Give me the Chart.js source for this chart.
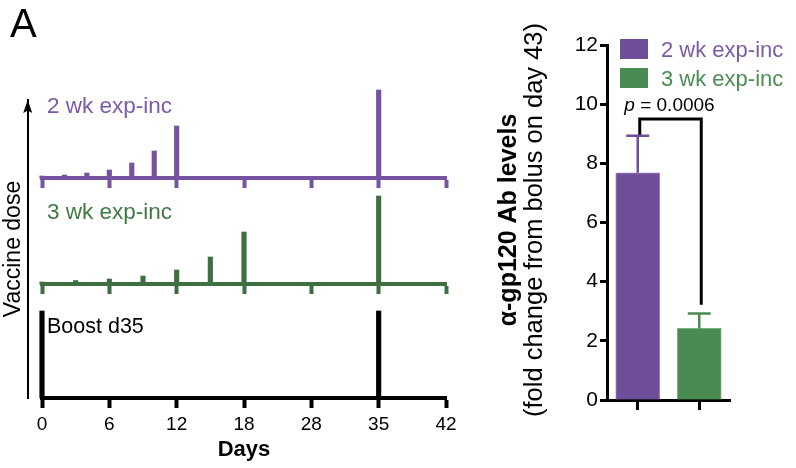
<!DOCTYPE html>
<html><head><meta charset="utf-8">
<script src="https://cdn.jsdelivr.net/npm/chart.js@4.4.1/dist/chart.umd.min.js"></script>
<style>
html,body{margin:0;padding:0;background:#fff;}
#wrap{position:relative;width:796px;height:468px;overflow:hidden;background:#fff;}
#cA{position:absolute;left:0;top:0;}
#cB{position:absolute;left:490px;top:0;}
</style></head><body>
<div id="wrap"><canvas id="cA" width="480" height="468"></canvas><canvas id="cB" width="306" height="468"></canvas></div>
<script>
// ---------- Panel A data (relative dose units) ----------
const DAY_TICKS = [0, 6, 12, 18, 28, 35, 42];
const DAY_TICK_LABELS = ['0', '6', '12', '18', '28', '35', '42'];
const TWO_WK_DAYS = [0, 2, 4, 6, 8, 10, 12, 35];
const TWO_WK_DOSE = [2, 3, 5, 8, 15, 27, 52, 88];
const THREE_WK_DAYS = [0, 3, 6, 9, 12, 15, 18, 35];
const THREE_WK_DOSE = [2, 3.5, 5, 8, 14, 27, 52, 88];
const BOLUS_DAYS = [0, 35];
const BOLUS_DOSE = [87, 87];
const ROW_LABELS = ['2 wk exp-inc', '3 wk exp-inc', 'Boost d35'];

// ---------- Panel B data ----------
const GROUPS = ['2 wk exp-inc', '3 wk exp-inc'];
const AB_MEAN = [7.68, 2.42];
const AB_SEM = [1.25, 0.5];
const P_VALUE = '0.0006';
const Y_TITLE_B = ['α-gp120 Ab levels', '(fold change from bolus on day 43)'];

// ---------- styles ----------
const FONT = '"Liberation Sans", Arial, Helvetica, sans-serif';
Chart.defaults.font.family = FONT;
const PURPLE_LINE = '#7653a1', GREEN_LINE = '#3e6f40';
const PURPLE_TEXT = '#7a5ba7', GREEN_TEXT = '#3f7a45';
const PURPLE_BAR = '#6f4e99', PURPLE_EDGE = '#9a83bd';
const GREEN_BAR = '#4a8b51', GREEN_EDGE = '#7db383';
const GREEN_LEG_TEXT = '#4a8c52';

// row baselines on the shared (hidden) dose axis
const BASE = { p: 220, g: 114, b: 0 };
const LABEL_RISE = 65.5;
const AXIS_ARROW_X = -0.212;

function dayToPos(d) {
  for (let i = 0; i < DAY_TICKS.length - 1; i++) {
    const a = DAY_TICKS[i], b = DAY_TICKS[i + 1];
    if (d <= b) return i + (d - a) / (b - a);
  }
  return DAY_TICKS.length - 1;
}
function rowData(days, doses, base) {
  return days.map((d, i) => ({ x: dayToPos(d), y: [base, base + doses[i]] }));
}
function dayTicks(s) { s.ticks = DAY_TICKS.map((d, i) => ({ value: i })); }

const panelAPlugin = {
  id: 'panelA',
  afterDraw(chart) {
    const { ctx } = chart;
    const xs = chart.scales.x, ys = chart.scales.y;
    ctx.save();
    // arrow head on dose axis
    const ax = xs.getPixelForValue(AXIS_ARROW_X);
    const top = chart.chartArea.top;
    ctx.fillStyle = '#000';
    ctx.beginPath();
    ctx.moveTo(ax, top);
    ctx.lineTo(ax - 4.5, top + 13);
    ctx.lineTo(ax, top + 10.5);
    ctx.lineTo(ax + 4.5, top + 13);
    ctx.closePath();
    ctx.fill();
    // row labels
    const x0 = xs.getPixelForValue(0) + 5;
    ctx.textBaseline = 'alphabetic';
    ctx.textAlign = 'left';
    ctx.font = '22.5px ' + FONT;
    ctx.fillStyle = PURPLE_TEXT;
    ctx.fillText(ROW_LABELS[0], x0, ys.getPixelForValue(BASE.p + LABEL_RISE));
    ctx.fillStyle = GREEN_TEXT;
    ctx.fillText(ROW_LABELS[1], x0, ys.getPixelForValue(BASE.g + LABEL_RISE));
    ctx.font = '21.5px ' + FONT;
    ctx.fillStyle = '#000';
    ctx.fillText(ROW_LABELS[2], x0, ys.getPixelForValue(BASE.b + LABEL_RISE));
    // panel letter
    ctx.font = '40px ' + FONT;
    ctx.fillText('A', 10, 37);
    ctx.restore();
  }
};

new Chart(document.getElementById('cA'), {
  type: 'bar',
  data: {
    datasets: [
      { label: ROW_LABELS[0], data: rowData(TWO_WK_DAYS, TWO_WK_DOSE, BASE.p), backgroundColor: PURPLE_LINE, barThickness: 4.5, grouped: false, clip: false },
      { label: ROW_LABELS[1], data: rowData(THREE_WK_DAYS, THREE_WK_DOSE, BASE.g), backgroundColor: GREEN_LINE, barThickness: 4.5, grouped: false, clip: false },
      { label: ROW_LABELS[2], data: rowData(BOLUS_DAYS, BOLUS_DOSE, BASE.b), backgroundColor: '#000', barThickness: 4.5, grouped: false, clip: false }
    ]
  },
  options: {
    responsive: false, animation: false, events: [],
    layout: { padding: { left: 0, right: 34, top: 100, bottom: 5.3 } },
    plugins: { legend: { display: false }, tooltip: { enabled: false } },
    scales: {
      x: {
        type: 'linear', position: 'bottom', offset: false, min: 0, max: DAY_TICKS.length - 1,
        afterBuildTicks: dayTicks,
        ticks: { autoSkip: false, maxRotation: 0, padding: 5.6, color: '#000', font: { size: 19 },
          callback: (v, i) => DAY_TICK_LABELS[i] },
        grid: { offset: false, drawOnChartArea: false, tickLength: 10, tickWidth: 4, tickColor: '#000' },
        border: { color: '#000', width: 4 },
        title: { display: true, text: 'Days', color: '#000', font: { size: 22, weight: 'bold' }, padding: { top: -5.7, bottom: 0 } },
        afterFit(s) { s.height = 64.7; }
      },
      xP: {
        type: 'linear', axis: 'x', position: { y: BASE.p }, offset: false, min: 0, max: DAY_TICKS.length - 1,
        afterBuildTicks: dayTicks,
        ticks: { display: false },
        grid: { offset: false, drawOnChartArea: false, tickLength: 8, tickWidth: 4, tickColor: PURPLE_LINE },
        border: { color: PURPLE_LINE, width: 4 }
      },
      xG: {
        type: 'linear', axis: 'x', position: { y: BASE.g }, offset: false, min: 0, max: DAY_TICKS.length - 1,
        afterBuildTicks: dayTicks,
        ticks: { display: false },
        grid: { offset: false, drawOnChartArea: false, tickLength: 8, tickWidth: 4, tickColor: GREEN_LINE },
        border: { color: GREEN_LINE, width: 4 }
      },
      y: {
        type: 'linear', position: 'left', min: 0, max: 298,
        ticks: { display: false },
        grid: { display: false, drawTicks: false },
        border: { display: false },
        title: { display: true, text: 'Vaccine dose', color: '#000', font: { size: 23 }, padding: { top: 0, bottom: 14.4 } },
        afterFit(s) { s.width = 42; }
      },
      yArrow: {
        type: 'linear', axis: 'y', position: { x: AXIS_ARROW_X }, min: 0, max: 298,
        ticks: { display: false },
        grid: { drawOnChartArea: false, drawTicks: false },
        border: { color: '#000', width: 2 }
      }
    }
  },
  plugins: [panelAPlugin]
});

// ---------- Panel B ----------
const panelBPlugin = {
  id: 'panelB',
  afterDatasetsDraw(chart) {
    const { ctx } = chart;
    const ys = chart.scales.y;
    const bars = chart.getDatasetMeta(0).data;
    const errCol = [PURPLE_BAR, GREEN_BAR];
    ctx.save();
    // error bars (mean + SEM)
    bars.forEach((bar, i) => {
      const yt = ys.getPixelForValue(AB_MEAN[i] + AB_SEM[i]);
      ctx.strokeStyle = errCol[i];
      ctx.lineWidth = 2.5;
      ctx.beginPath();
      ctx.moveTo(bar.x, bar.y);
      ctx.lineTo(bar.x, yt);
      ctx.moveTo(bar.x - 11.5, yt);
      ctx.lineTo(bar.x + 11.5, yt);
      ctx.stroke();
    });
    // significance bracket
    const yb = ys.getPixelForValue(9.5);
    const xl = bars[0].x + 2, xr = bars[1].x + 2;
    ctx.strokeStyle = '#000';
    ctx.lineWidth = 3;
    ctx.lineJoin = 'miter';
    ctx.beginPath();
    ctx.moveTo(xl, ys.getPixelForValue(AB_MEAN[0] + AB_SEM[0]) - 1);
    ctx.lineTo(xl, yb);
    ctx.lineTo(xr, yb);
    ctx.lineTo(xr, ys.getPixelForValue(AB_MEAN[1] + AB_SEM[1] + 0.3));
    ctx.stroke();
    // p value
    ctx.fillStyle = '#000';
    ctx.textBaseline = 'alphabetic';
    ctx.textAlign = 'left';
    const f1 = 'italic 19px ' + FONT, f2 = '19px ' + FONT;
    ctx.font = f1; const w1 = ctx.measureText('p').width;
    ctx.font = f2; const rest = ' = ' + P_VALUE; const w2 = ctx.measureText(rest).width;
    const cx = (bars[0].x + bars[1].x) / 2 + 1;
    const tx = cx - (w1 + w2) / 2;
    const ty = yb - 8;
    ctx.font = f1; ctx.fillText('p', tx, ty);
    ctx.font = f2; ctx.fillText(rest, tx + w1, ty);
    // legend
    const ca = chart.chartArea;
    const legCols = [PURPLE_BAR, GREEN_BAR], legText = [PURPLE_TEXT, GREEN_LEG_TEXT];
    const legTop = [39, 68];
    ctx.font = '22px ' + FONT;
    GROUPS.forEach((g, i) => {
      ctx.fillStyle = legCols[i];
      ctx.fillRect(ca.left + 13, legTop[i], 28, 20);
      ctx.fillStyle = legText[i];
      ctx.fillText(g, ca.left + 54, legTop[i] + 18.3);
    });
    // y-axis titles (two lines, first bold)
    const cy = 220;
    ctx.fillStyle = '#000';
    ctx.textAlign = 'center';
    ctx.textBaseline = 'middle';
    const lines = [
      { text: Y_TITLE_B[0], font: 'bold 25px ' + FONT, x: ys.left - 57.8 },
      { text: Y_TITLE_B[1], font: '25.5px ' + FONT, x: ys.left - 31.8 }
    ];
    lines.forEach(l => {
      ctx.save();
      ctx.translate(l.x, cy);
      ctx.rotate(-Math.PI / 2);
      ctx.font = l.font;
      ctx.fillText(l.text, 0, 0);
      ctx.restore();
    });
    ctx.restore();
  }
};

new Chart(document.getElementById('cB'), {
  type: 'bar',
  data: {
    labels: GROUPS,
    datasets: [{
      label: 'α-gp120 Ab levels', data: AB_MEAN,
      backgroundColor: [PURPLE_BAR, GREEN_BAR], borderColor: [PURPLE_EDGE, GREEN_EDGE],
      borderWidth: 1, barThickness: 44
    }]
  },
  options: {
    responsive: false, animation: false, events: [],
    layout: { padding: { left: 77, right: 66, top: 45, bottom: 58 } },
    plugins: { legend: { display: false }, tooltip: { enabled: false } },
    scales: {
      x: {
        ticks: { display: false },
        grid: { offset: false, drawOnChartArea: false, tickLength: 10, tickWidth: 3, tickColor: '#000' },
        border: { color: '#000', width: 3 },
        afterFit(s) { s.height = 10; }
      },
      y: {
        min: 0, max: 12,
        ticks: { stepSize: 2, color: '#000', font: { size: 21 }, padding: 2 },
        grid: { drawOnChartArea: false, tickLength: 7, tickWidth: 3, tickColor: '#000' },
        border: { color: '#000', width: 3 },
        afterFit(s) { s.width = 40; }
      }
    }
  },
  plugins: [panelBPlugin]
});
</script>
</body></html>
